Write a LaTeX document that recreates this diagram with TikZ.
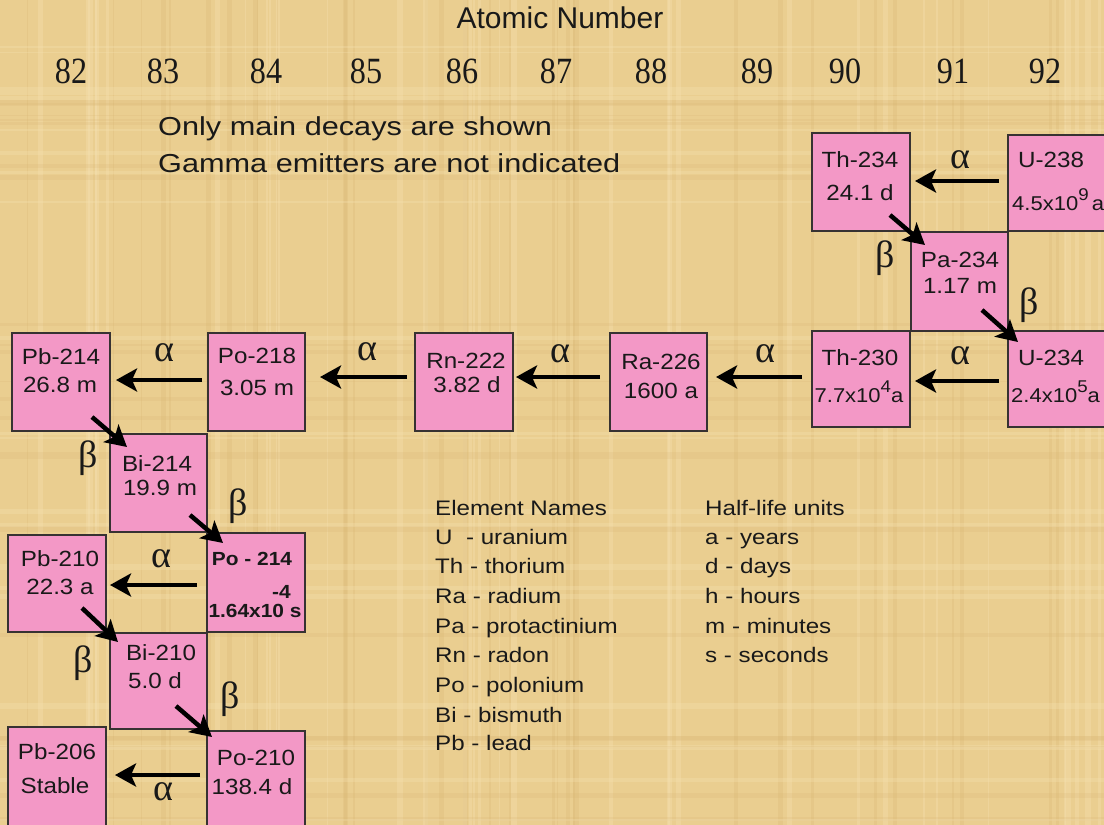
\documentclass[tikz,border=0pt]{standalone}
\usepackage{fontspec}
\setmainfont{Liberation Sans}
\newfontfamily\boxfont[FakeStretch=1.1]{Liberation Sans}
\newfontfamily\notefont[FakeStretch=1.18]{Liberation Sans}
\newfontfamily\legfont[FakeStretch=1.15]{Liberation Sans}
\newfontfamily\numfont[FakeStretch=0.87]{Liberation Serif}
\newfontfamily\grkfont{Liberation Serif}
\usetikzlibrary{arrows.meta,calc}
\definecolor{paper}{RGB}{234,206,144}
\definecolor{paperlight}{RGB}{246,226,178}
\definecolor{paperdark}{RGB}{214,178,112}
\definecolor{boxpink}{RGB}{243,152,198}
\definecolor{boxline}{RGB}{55,50,50}
\definecolor{ink}{RGB}{25,25,25}
\newcommand\myexp[1]{\raisebox{0.5em}{\fontsize{17}{17}\selectfont #1}}
\begin{document}
\begin{tikzpicture}[x=1pt,y=-1pt,
  box/.style={draw=boxline,line width=1.2pt,fill=boxpink,anchor=north west,inner sep=0pt,outer sep=0pt},
  bt/.style={anchor=base,inner sep=0pt,text=ink,font={\boxfont\fontsize{22}{24}\selectfont}},
  bts/.style={anchor=base,inner sep=0pt,text=ink,font={\boxfont\fontsize{20}{22}\selectfont}},
  btb/.style={anchor=base,inner sep=0pt,text=ink,font={\boxfont\bfseries\fontsize{19}{21}\selectfont}},
  grk/.style={inner sep=0pt,text=ink,font={\grkfont\fontsize{38}{40}\selectfont}},
  num/.style={anchor=base,inner sep=0pt,text=ink,font={\numfont\fontsize{37}{40}\selectfont}},
  note/.style={anchor=base west,inner sep=0pt,text=ink,font={\notefont\fontsize{26}{28}\selectfont}},
  leg/.style={anchor=base west,inner sep=0pt,text=ink,font={\legfont\fontsize{21}{23}\selectfont}},
  arr/.style={line width=4.5pt,draw=black,-{Stealth[length=21pt,width=23pt,inset=5pt]}}
]
\useasboundingbox (0,0) rectangle (1104,825);
\clip (0,0) rectangle (1104,825);
\fill[paper] (0,0) rectangle (1104,825);
% paper texture
\pgfmathsetseed{42}
\foreach \i in {1,...,70}{
  \pgfmathsetmacro{\xx}{rnd*1104}
  \pgfmathsetmacro{\ww}{1+rnd*5}
  \pgfmathsetmacro{\cc}{rnd}
  \ifdim\cc pt<0.5pt
    \fill[paperlight,opacity=0.35] (\xx,0) rectangle ++(\ww,825);
  \else
    \fill[paperdark,opacity=0.22] (\xx,0) rectangle ++(\ww,825);
  \fi
}
\foreach \i in {1,...,45}{
  \pgfmathsetmacro{\yy}{rnd*825}
  \pgfmathsetmacro{\hh}{1+rnd*5}
  \pgfmathsetmacro{\cc}{rnd}
  \ifdim\cc pt<0.5pt
    \fill[paperlight,opacity=0.3] (0,\yy) rectangle ++(1104,\hh);
  \else
    \fill[paperdark,opacity=0.18] (0,\yy) rectangle ++(1104,\hh);
  \fi
}

% title and atomic numbers
\node[anchor=base,inner sep=0pt,text=ink,font={\fontsize{30}{32}\selectfont}] (title) at (560,28) {Atomic Number};
\node[num] (n82) at (71,83) {82};
\node[num] (n83) at (163,83) {83};
\node[num] (n84) at (266,83) {84};
\node[num] (n85) at (366,83) {85};
\node[num] (n86) at (462,83) {86};
\node[num] (n87) at (556,83) {87};
\node[num] (n88) at (651,83) {88};
\node[num] (n89) at (757,83) {89};
\node[num] (n90) at (845,83) {90};
\node[num] (n91) at (953,83) {91};
\node[num] (n92) at (1045,83) {92};

% notes
\node[note] (note1) at (158,135) {Only main decays are shown};
\node[note] (note2) at (158,172) {Gamma emitters are not indicated};

% boxes
\node[box,minimum width=98pt,minimum height=98pt] (th234) at (812,133) {};
\node[box,minimum width=110pt,minimum height=96pt] (u238) at (1008,135) {};
\node[box,minimum width=97pt,minimum height=99pt] (pa234) at (911,232) {};
\node[box,minimum width=98pt,minimum height=96pt] (th230) at (812,331) {};
\node[box,minimum width=110pt,minimum height=96pt] (u234) at (1008,331) {};
\node[box,minimum width=97pt,minimum height=98pt] (ra226) at (610,333) {};
\node[box,minimum width=98pt,minimum height=98pt] (rn222) at (415,333) {};
\node[box,minimum width=97pt,minimum height=98pt] (po218) at (208,333) {};
\node[box,minimum width=98pt,minimum height=98pt] (pb214) at (12,333) {};
\node[box,minimum width=97pt,minimum height=98pt] (bi214) at (110,434) {};
\node[box,minimum width=98pt,minimum height=99pt] (po214) at (207,533) {};
\node[box,minimum width=98pt,minimum height=97pt] (pb210) at (8,535) {};
\node[box,minimum width=97pt,minimum height=96pt] (bi210) at (110,633) {};
\node[box,minimum width=98pt,minimum height=110pt] (pb206) at (8,727) {};
\node[box,minimum width=98pt,minimum height=110pt] (po210) at (207,731) {};

% box texts
\node[bt] (th234a) at (860,167) {Th-234};
\node[bt] (th234b) at (860,200) {24.1 d};
\node[bt,anchor=base west] (u238a) at (1018,167) {U-238};
\node[bts,anchor=base west] (u238b) at (1012,210) {4.5x10\myexp{9}\,a};
\node[bt] (pa234a) at (960,267) {Pa-234};
\node[bt] (pa234b) at (960,293) {1.17 m};
\node[bt] (th230a) at (860,365) {Th-230};
\node[bts] (th230b) at (859,402) {7.7x10\myexp{4}a};
\node[bt,anchor=base west] (u234a) at (1018,365) {U-234};
\node[bts,anchor=base west] (u234b) at (1011,402) {2.4x10\myexp{5}a};
\node[bt] (ra226a) at (661,369) {Ra-226};
\node[bt] (ra226b) at (661,398) {1600 a};
\node[bt] (rn222a) at (466,368) {Rn-222};
\node[bt] (rn222b) at (467,392) {3.82 d};
\node[bt] (po218a) at (257,363) {Po-218};
\node[bt] (po218b) at (257,395) {3.05 m};
\node[bt] (pb214a) at (61,364) {Pb-214};
\node[bt] (pb214b) at (60,392) {26.8 m};
\node[bt] (bi214a) at (157,471) {Bi-214};
\node[bt] (bi214b) at (160,495) {19.9 m};
\node[btb] (po214a) at (252,565) {Po - 214};
\node[btb,anchor=base east] (po214e) at (291,598) {-4};
\node[btb] (po214b) at (255,617) {1.64x10 s};
\node[bt] (pb210a) at (60,566) {Pb-210};
\node[bt] (pb210b) at (60,594) {22.3 a};
\node[bt] (bi210a) at (161,660) {Bi-210};
\node[bt] (bi210b) at (155,688) {5.0 d};
\node[bt] (pb206a) at (57,759) {Pb-206};
\node[bt] (pb206b) at (55,793) {Stable};
\node[bt] (po210a) at (256,765) {Po-210};
\node[bt] (po210b) at (252,794) {138.4 d};

% decay arrows
\draw[arr] ($(u238.west)+(-9,-2)$) -- ($(th234.east)+(5,-1)$);
\draw[arr] ($(th234.south east)+(-20,-16)$) -- ($(pa234.north west)+(14,13)$);
\draw[arr] ($(pa234.south east)+(-26,-21)$) -- ($(u234.north west)+(10,11)$);
\draw[arr] ($(u234.west)+(-9,2)$) -- ($(th230.east)+(5,2)$);
\draw[arr] ($(th230.west)+(-10,-2)$) -- ($(ra226.east)+(9,-5)$);
\draw[arr] ($(ra226.west)+(-10,-5)$) -- ($(rn222.east)+(3,-5)$);
\draw[arr] ($(rn222.west)+(-8,-5)$) -- ($(po218.east)+(15,-5)$);
\draw[arr] ($(po218.west)+(-6,-2)$) -- ($(pb214.east)+(6,-2)$);
\draw[arr] ($(pb214.south east)+(-18,-14)$) -- ($(bi214.north west)+(17,13)$);
\draw[arr] ($(bi214.south east)+(-17,-17)$) -- ($(po214.north west)+(16,10)$);
\draw[arr] ($(po214.west)+(-10,2.5)$) -- ($(pb210.east)+(4,1.5)$);
\draw[arr] ($(pb210.south east)+(-24,-24)$) -- ($(bi210.north west)+(8,9)$);
\draw[arr] ($(bi210.south east)+(-31,-23)$) -- ($(po210.north west)+(5,6)$);
\draw[arr] ($(po210.west)+(-7,-11)$) -- ($(pb206.east)+(9,-7)$);

% decay labels
\node[grk] (g1) at (960,160) {α};
\node[grk] (g2) at (885,258) {β};
\node[grk] (g3) at (1029,305) {β};
\node[grk] (g4) at (960,356) {α};
\node[grk] (g5) at (765,354) {α};
\node[grk] (g6) at (560,354) {α};
\node[grk] (g7) at (367,352) {α};
\node[grk] (g8) at (164,353) {α};
\node[grk] (g9) at (88,458) {β};
\node[grk] (g10) at (238,506) {β};
\node[grk] (g11) at (161,559) {α};
\node[grk] (g12) at (83,663) {β};
\node[grk] (g13) at (230,699) {β};
\node[grk] (g14) at (163,792) {α};

% legend
\node[leg] (l1) at (435,515) {Element Names};
\node[leg] (l2) at (435,544) {U\ \ - uranium};
\node[leg] (l3) at (435,573) {Th - thorium};
\node[leg] (l4) at (435,603) {Ra - radium};
\node[leg] (l5) at (435,633) {Pa - protactinium};
\node[leg] (l6) at (435,662) {Rn - radon};
\node[leg] (l7) at (435,692) {Po - polonium};
\node[leg] (l8) at (435,722) {Bi - bismuth};
\node[leg] (l9) at (435,750) {Pb - lead};
\node[leg] (h1) at (705,515) {Half-life units};
\node[leg] (h2) at (705,544) {a - years};
\node[leg] (h3) at (705,573) {d - days};
\node[leg] (h4) at (705,603) {h - hours};
\node[leg] (h5) at (705,633) {m - minutes};
\node[leg] (h6) at (705,662) {s - seconds};
\end{tikzpicture}
\end{document}
